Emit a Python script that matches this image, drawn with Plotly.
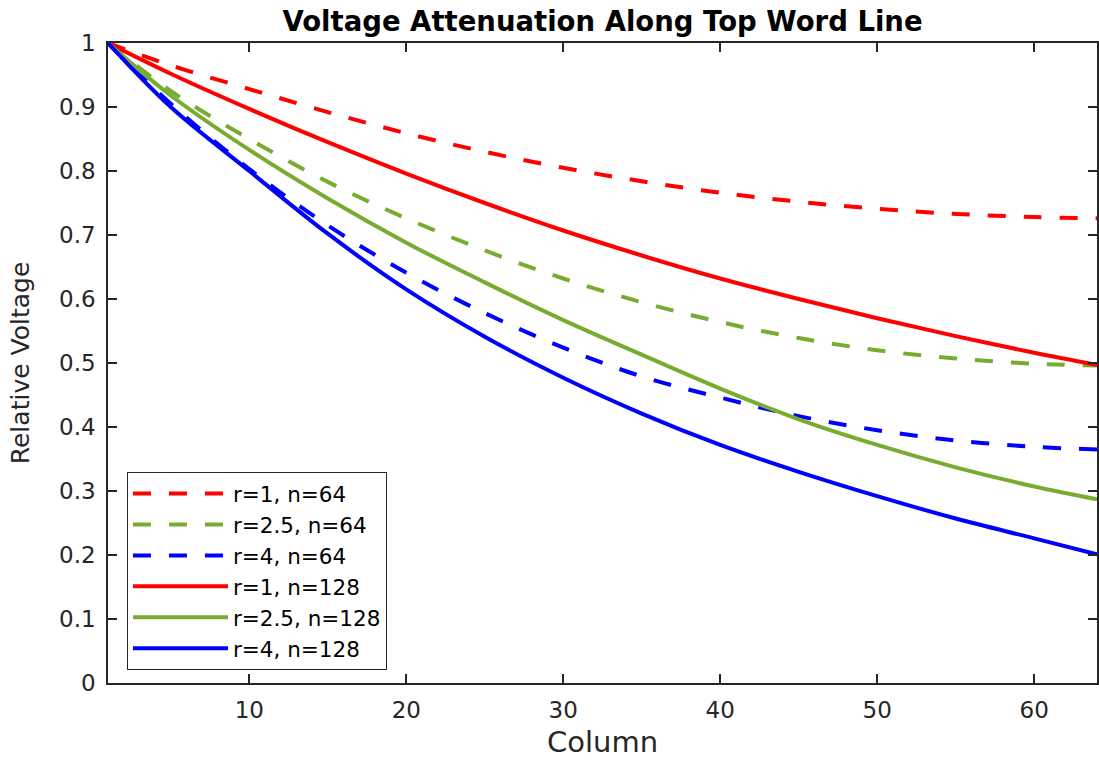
import plotly.graph_objects as go

columns = [1, 5, 10, 15, 20, 25, 30, 35, 40, 45, 50, 55, 60, 64]

r1_n64 = [1.0, 0.965, 0.928, 0.892, 0.859, 0.830, 0.805, 0.784, 0.766, 0.752, 0.741, 0.733, 0.728, 0.726]
r25_n64 = [1.0, 0.925, 0.850, 0.783, 0.726, 0.676, 0.632, 0.595, 0.564, 0.539, 0.520, 0.507, 0.499, 0.496]
r4_n64 = [1.0, 0.905, 0.803, 0.715, 0.641, 0.578, 0.524, 0.479, 0.446, 0.417, 0.395, 0.379, 0.369, 0.365]
r1_n128 = [1.0, 0.952, 0.897, 0.845, 0.796, 0.750, 0.707, 0.668, 0.632, 0.600, 0.570, 0.542, 0.516, 0.497]
r25_n128 = [1.0, 0.918, 0.833, 0.757, 0.688, 0.626, 0.567, 0.513, 0.460, 0.412, 0.372, 0.337, 0.307, 0.287]
r4_n128 = [1.0, 0.900, 0.800, 0.702, 0.615, 0.541, 0.477, 0.421, 0.372, 0.330, 0.292, 0.257, 0.226, 0.201]

series = [
    ("r=1, n=64", r1_n64, "#FF0000", "18px,18px"),
    ("r=2.5, n=64", r25_n64, "#77AC30", "18px,18px"),
    ("r=4, n=64", r4_n64, "#0000FF", "18px,18px"),
    ("r=1, n=128", r1_n128, "#FF0000", "solid"),
    ("r=2.5, n=128", r25_n128, "#77AC30", "solid"),
    ("r=4, n=128", r4_n128, "#0000FF", "solid"),
]

x_ticks = [10, 20, 30, 40, 50, 60]
y_ticks = [0, 0.1, 0.2, 0.3, 0.4, 0.5, 0.6, 0.7, 0.8, 0.9, 1]
y_tick_labels = ["0", "0.1", "0.2", "0.3", "0.4", "0.5", "0.6", "0.7", "0.8", "0.9", "1"]

FONT = "DejaVu Sans"
AX = "#262626"

fig = go.Figure()
for name, vals, color, dash in series:
    fig.add_trace(go.Scatter(
        x=columns, y=vals, name=name, mode="lines",
        line=dict(color=color, width=4, dash=dash, shape="spline", smoothing=1.0),
    ))

W, H = 1099, 760
left, right, top, bottom = 108, 1099, 43, 683

fig.update_layout(
    width=W, height=H,
    margin=dict(l=left, r=W - right, t=top, b=H - bottom, pad=0),
    paper_bgcolor="white", plot_bgcolor="white",
    font=dict(family=FONT, color=AX),
    title=dict(text="<b>Voltage Attenuation Along Top Word Line</b>",
               x=0.5, xref="paper", xanchor="center",
               y=1 - 21 / H, yref="container", yanchor="middle",
               font=dict(family=FONT, size=27.5, color="black")),
    showlegend=True,
    legend=dict(
        x=(127 - left) / (right - left), y=(bottom - 472) / (bottom - top),
        xanchor="left", yanchor="top",
        bgcolor="white", bordercolor=AX, borderwidth=1,
        font=dict(family=FONT, size=21.5, color="black"),
        itemwidth=95, tracegroupgap=0,
    ),
    xaxis=dict(
        range=[1, 64], tickvals=x_ticks, ticktext=[str(v) for v in x_ticks],
        showgrid=False, zeroline=False,
        showline=True, linecolor=AX, linewidth=1.5, mirror="ticks",
        ticks="inside", ticklen=9, tickwidth=1.5, tickcolor=AX,
        tickfont=dict(family=FONT, size=23, color=AX),
        ticklabelstandoff=6,
        title=dict(text="Column", font=dict(family=FONT, size=29, color=AX), standoff=9),
    ),
    yaxis=dict(
        range=[0, 1], tickvals=y_ticks, ticktext=y_tick_labels,
        showgrid=False, zeroline=False,
        showline=True, linecolor=AX, linewidth=1.5, mirror="ticks",
        ticks="inside", ticklen=9, tickwidth=1.5, tickcolor=AX,
        tickfont=dict(family=FONT, size=23, color=AX),
        ticklabelstandoff=6,
        title=dict(text="Relative Voltage", font=dict(family=FONT, size=25, color=AX), standoff=22),
    ),
)

fig.write_html("out.html")
